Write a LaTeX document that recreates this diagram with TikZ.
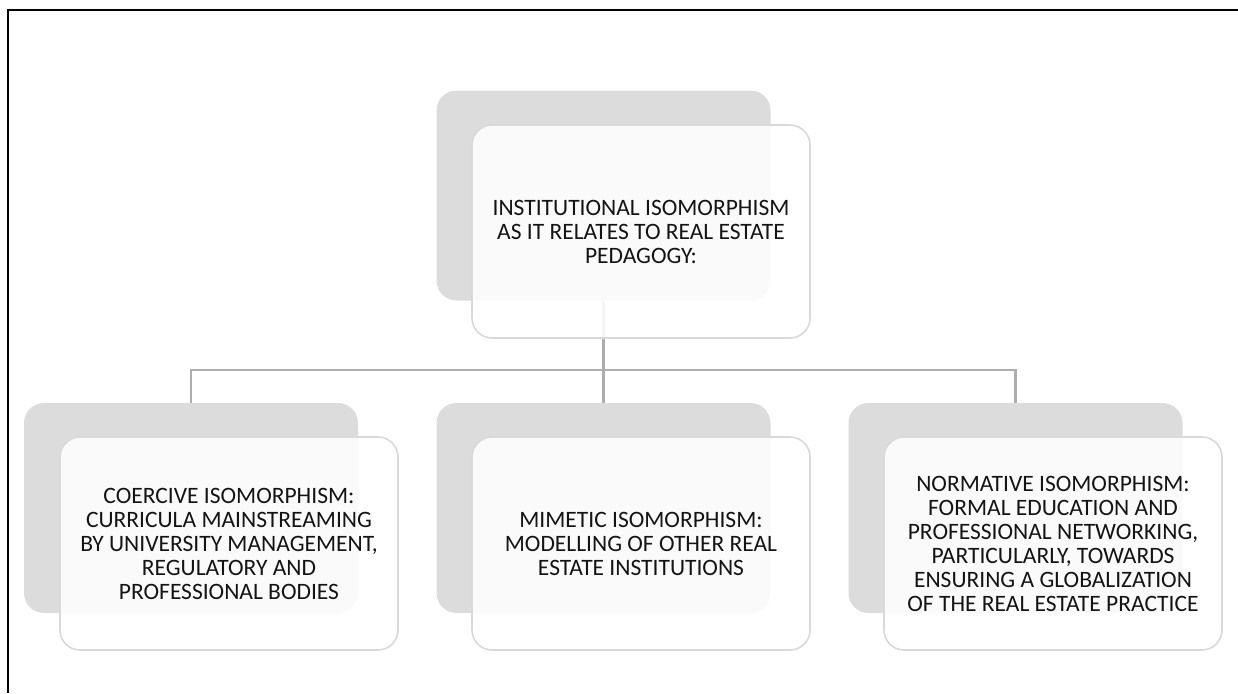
\documentclass[tikz,border=0pt]{standalone}
\usepackage{fontspec}
\setmainfont{Carlito}
\definecolor{backgray}{HTML}{DCDCDC}
\definecolor{edgegray}{HTML}{D9D9D9}
\definecolor{linkgray}{HTML}{ADADAD}
\tikzset{
  backbox/.style={fill=backgray, draw=none, rounded corners=20pt, minimum width=334pt, minimum height=210pt, inner sep=0pt},
  frontbox/.style={fill=white, fill opacity=0.88, text opacity=1, draw=edgegray, draw opacity=1, line width=1.6pt, rounded corners=20pt, minimum width=338pt, minimum height=213pt, inner sep=0pt, align=center, font=\fontsize{23.5}{24}\selectfont, text=black!92},
  link/.style={draw=linkgray, line width=2.3pt},
  frame/.style={draw=black, line width=2.4pt}
}
\begin{document}
\begin{tikzpicture}[x=1pt, y=-1pt]
\useasboundingbox (0,0) rectangle (1238,693);
% frame
\draw[frame] (8,693) -- (8,10) -- (1238,10);
% back boxes
\node[backbox] (tb) at (603.5,195.5) {};
\node[backbox] (lb) at (191,508) {};
\node[backbox] (mb) at (603.5,508) {};
\node[backbox] (rb) at (1015.5,508) {};
% connectors
\coordinate (j) at (603.5,370);
\draw[link] (tb.south) -- (j);
\draw[link] (lb.north) |- (j);
\draw[link] (rb.north) |- (j);
\draw[link] (mb.north) -- (j);
% front boxes
\node[frontbox] (tf) at (641,231.5) {INSTITUTIONAL ISOMORPHISM\\AS IT RELATES TO REAL ESTATE\\PEDAGOGY:};
\node[frontbox] (lf) at (229,543.5) {COERCIVE ISOMORPHISM:\\CURRICULA MAINSTREAMING\\BY UNIVERSITY MANAGEMENT,\\REGULATORY AND\\PROFESSIONAL BODIES};
\node[frontbox] (mf) at (641,543.5) {MIMETIC ISOMORPHISM:\\MODELLING OF OTHER REAL\\ESTATE INSTITUTIONS};
\node[frontbox] (rf) at (1053,543.5) {NORMATIVE ISOMORPHISM:\\FORMAL EDUCATION AND\\PROFESSIONAL NETWORKING,\\PARTICULARLY, TOWARDS\\ENSURING A GLOBALIZATION\\OF THE REAL ESTATE PRACTICE};
\end{tikzpicture}
\end{document}
